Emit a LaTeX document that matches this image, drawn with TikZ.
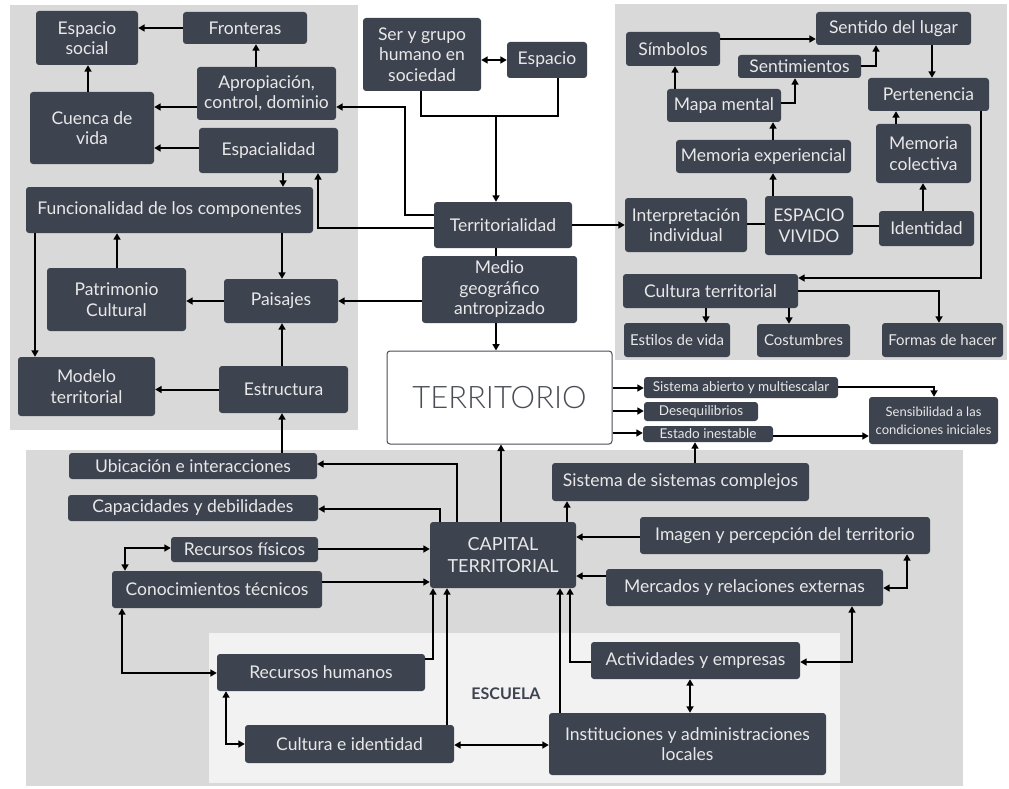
\documentclass[tikz,border=0pt]{standalone}
\usepackage{fontspec}
\setmainfont{Lato}
\newfontfamily\thinfont{Lato}[UprightFont=* Light]
\usetikzlibrary{arrows.meta}
\definecolor{boxfill}{HTML}{3E4350}
\definecolor{boxtext}{HTML}{E8E8E8}
\definecolor{panel}{HTML}{D9D9D9}
\definecolor{school}{HTML}{F2F2F2}
\definecolor{titlegray}{HTML}{4A4D55}

\tikzset{
  box/.style={draw=none, fill=boxfill, rounded corners=3pt, text=boxtext,
    align=center, inner sep=0pt, font=\fontsize{17.5}{20.5}\selectfont},
  smalltxt/.style={font=\fontsize{15}{17}\selectfont},
  tinytxt/.style={font=\fontsize{13.5}{15}\selectfont},
  microtxt/.style={font=\fontsize{13}{18}\selectfont},
  arr/.style={line width=2pt, -{Triangle[length=6.5pt,width=7pt]}},
  darr/.style={line width=2pt, {Triangle[length=6.5pt,width=7pt]}-{Triangle[length=6.5pt,width=7pt]}},
  ln/.style={line width=2pt},
}

% box from its corners: [options]{name}{x1}{y1}{x2}{y2}{text}, y measured downwards
\newcommand\bx[7][]{\node[box,minimum width={(#5)-(#3)},minimum height={(#6)-(#4)},#1]
  (#2) at ({((#3)+(#5))/2},{-((#4)+(#6))/2}) {#7};}

\begin{document}
\begin{tikzpicture}[x=1pt,y=1pt]
\useasboundingbox (0,0) rectangle (1009,-789);

% background panels
\fill[panel] (10,-5) rectangle (358,-430);
\fill[panel] (615,-4) rectangle (1007,-360);
\fill[panel] (26,-450) rectangle (963,-786);
\fill[school] (209,-633) rectangle (840,-783);

% territorialidad block (left)
\bx{esoc}{36}{11}{138}{65}{Espacio\\social}
\bx{fron}{183}{12}{307}{44}{Fronteras}
\bx{apro}{197}{67}{336}{120}{Apropiación,\\control, dominio}
\bx{cuen}{30}{92}{154}{164}{Cuenca de\\vida}
\bx{espa}{199}{128}{338}{173}{Espacialidad}
\bx{func}{26}{187}{313}{233}{Funcionalidad de los componentes}
\bx{patr}{47}{268}{186}{331}{Patrimonio\\Cultural}
\bx{pais}{224}{279}{338}{323}{Paisajes}
\bx{mode}{18}{357}{155}{416}{Modelo\\territorial}
\bx{estr}{219}{366}{348}{413}{Estructura}

% centre column
\bx{ser}{363}{18}{481}{91}{Ser y grupo\\humano en\\sociedad}
\bx{espc}{507}{42}{587}{78}{Espacio}
\bx{terr}{434}{202}{572}{248}{Territorialidad}
\bx{medio}{422}{256}{577}{323}{Medio\\geográfico\\antropizado}
\bx[fill=white,draw=titlegray,line width=1pt,text=titlegray,
    font=\thinfont\fontsize{31}{31}\selectfont]{territorio}{387}{351}{612}{444}{TERRITORIO}

% espacio vivido block (right)
\bx{simb}{626}{32}{720}{66}{Símbolos}
\bx{sent}{816}{12}{971}{45}{Sentido del lugar}
\bx{senti}{738}{55}{861}{78}{Sentimientos}
\bx{mapa}{667}{89}{781}{122}{Mapa mental}
\bx{memx}{676}{140}{851}{173}{Memoria experiencial}
\bx{pert}{868}{78}{989}{111}{Pertenencia}
\bx{memc}{876}{124}{971}{183}{Memoria\\colectiva}
\bx{interp}{625}{198}{747}{252}{Interpretación\\individual}
\bx{vivo}{765}{196}{853}{255}{ESPACIO\\VIVIDO}
\bx{iden}{879}{211}{974}{246}{Identidad}
\bx{cult}{623}{274}{798}{308}{Cultura territorial}
\bx[smalltxt]{esti}{624}{323}{730}{357}{Estilos de vida}
\bx[smalltxt]{cost}{757}{324}{850}{357}{Costumbres}
\bx[smalltxt]{form}{882}{323}{1003}{357}{Formas de hacer}

% system properties
\bx[tinytxt]{sis}{644}{377}{838}{398}{Sistema abierto y multiescalar}
\bx[tinytxt]{deseq}{644}{402}{758}{421}{Desequilibrios}
\bx[tinytxt]{estado}{643}{426}{773}{442}{Estado inestable}
\bx[microtxt]{sens}{869}{397}{998}{444}{Sensibilidad a las\\condiciones iniciales}

% capital territorial block (bottom)
\bx{ubic}{69}{453}{317}{479}{Ubicación e interacciones}
\bx{capa}{68}{495}{318}{521}{Capacidades y debilidades}
\bx{rfis}{171}{537}{318}{562}{Recursos físicos}
\bx{cono}{112}{571}{322}{608}{Conocimientos técnicos}
\bx[font=\fontsize{18}{22}\selectfont]{cap}{430}{522}{576}{588}{CAPITAL\\TERRITORIAL}
\bx{ssc}{552}{463}{809}{501}{Sistema de sistemas complejos}
\bx{imag}{640}{517}{930}{554}{Imagen y percepción del territorio}
\bx{merc}{606}{569}{883}{606}{Mercados y relaciones externas}
\bx{rhum}{217}{654}{425}{691}{Recursos humanos}
\bx{cide}{245}{725}{454}{763}{Cultura e identidad}
\bx{acti}{591}{642}{800}{679}{Actividades y empresas}
\bx{inst}{549}{713}{826}{775}{Instituciones y administraciones\\locales}
\node[text=boxfill,font=\bfseries\fontsize{16}{16}\selectfont] (escuela) at (506,-694) {ESCUELA};

% connectors: left block
\draw[arr] (fron.west) -- (fron.west -| esoc.east);
\draw[arr] (apro.north -| 256,0) -- (fron.south -| 256,0);
\draw[arr] (cuen.north -| 88,0) -- (esoc.south -| 88,0);
\draw[arr] (apro.west |- 0,-107) -- (cuen.east |- 0,-107);
\draw[arr] (espa.west |- 0,-148) -- (cuen.east |- 0,-148);
\draw[arr] (espa.south -| 283,0) -- (func.north -| 283,0);
\draw[arr] (func.south -| 35,0) -- (mode.north -| 35,0);
\draw[arr] (patr.north -| 117,0) -- (func.south -| 117,0);
\draw[arr] (func.south -| 282,0) -- (pais.north -| 282,0);
\draw[arr] (pais.west) -- (pais.west -| patr.east);
\draw[arr] (estr.north -| 282,0) -- (pais.south -| 282,0);
\draw[arr] (estr.west) -- (estr.west -| mode.east);
\draw[arr] (ubic.north -| 282,0) -- (estr.south -| 282,0);
\draw[arr] (terr.west |- 0,-215) -| (405,-107) -- (apro.east |- 0,-107);
\draw[arr] (terr.west |- 0,-228) -| (espa.south -| 318,0);
\draw[arr] (medio.west |- 0,-301) -- (pais.east |- 0,-301);

% connectors: centre column
\coordinate (join) at (496,-116);
\draw[darr] (ser.east |- 0,-60) -- (espc.west |- 0,-60);
\draw[ln] (ser.south -| 421,0) |- (join) -| (espc.south -| 558,0);
\draw[arr] (join) -- (terr.north -| join);
\draw[ln] (terr.south -| join) -- (medio.north -| join);
\draw[arr] (medio.south -| join) -- (territorio.north -| join);
\draw[arr] (terr.east) -- (terr.east -| interp.west);

% connectors: right block
\draw[arr] (simb.east |- 0,-39) -- (sent.west |- 0,-39);
\draw[arr] (mapa.north -| 675,0) -- (simb.south -| 675,0);
\draw[arr] (senti.east |- 0,-66) -| (sent.south -| 876,0);
\draw[arr] (mapa.east |- 0,-103) -| (senti.south -| 795,0);
\draw[arr] (memx.north -| 773,0) -- (mapa.south -| 773,0);
\draw[arr] (vivo.north -| 773,0) -- (memx.south -| 773,0);
\draw[arr] (sent.south -| 932,0) -- (pert.north -| 932,0);
\draw[arr] (memc.north -| 896,0) -- (pert.south -| 896,0);
\draw[arr] (iden.north -| 923,0) -- (memc.south -| 923,0);
\draw[ln] (interp.east |- 0,-224) -- (vivo.west |- 0,-224);
\draw[ln] (vivo.east |- 0,-226) -- (iden.west |- 0,-226);
\draw[arr] (pert.south -| 981,0) |- (cult.east |- 0,-278);
\draw[arr] (cult.south -| 706,0) -- (esti.north -| 706,0);
\draw[arr] (cult.south -| 789,0) -- (cost.north -| 789,0);
\draw[arr] (cult.east |- 0,-291) -| (form.north -| 939,0);

% connectors: territorio
\draw[arr] (territorio.east |- 0,-388) -- (sis.west |- 0,-388);
\draw[arr] (territorio.east |- 0,-411) -- (deseq.west |- 0,-411);
\draw[arr] (territorio.east |- 0,-433) -- (estado.west |- 0,-433);
\draw[arr] (sis.east |- 0,-387) -| (sens.north -| 934,0);
\draw[arr] (estado.east |- 0,-436) -- (sens.west |- 0,-436);
\draw[arr] (ssc.north -| 695,0) -- (estado.south -| 695,0);
\draw[arr] (cap.north -| 501,0) -- (territorio.south -| 501,0);

% connectors: capital territorial
\draw[arr] (cap.north -| 457,0) |- (ubic.east |- 0,-464);
\draw[arr] (cap.north -| 440,0) |- (capa.east |- 0,-509);
\draw[arr] (rfis.east |- 0,-549) -- (cap.west |- 0,-549);
\draw[arr] (cono.east |- 0,-582) -- (cap.west |- 0,-582);
\draw[darr] (rfis.west |- 0,-548) -| (cono.north -| 125,0);
\draw[darr] (cono.south -| 122,0) |- (rhum.west |- 0,-673);
\draw[arr] (rhum.east |- 0,-659) -| (cap.south -| 433,0);
\draw[arr] (cide.north -| 447,0) -- (cap.south -| 447,0);
\draw[darr] (rhum.south -| 226,0) |- (cide.west |- 0,-744);
\draw[darr] (cide.east |- 0,-745) -- (inst.west |- 0,-745);
\draw[arr] (inst.north -| 560,0) -- (cap.south -| 560,0);
\draw[arr] (acti.west |- 0,-662) -| (cap.south -| 570,0);
\draw[arr] (imag.west |- 0,-537) -- (cap.east |- 0,-537);
\draw[arr] (merc.west |- 0,-576) -- (cap.east |- 0,-576);
\draw[arr] (cap.north -| 567,0) -- (ssc.south -| 567,0);
\draw[darr] (merc.east |- 0,-588) -| (imag.south -| 907,0);
\draw[darr] (merc.south -| 852,0) |- (acti.east |- 0,-662);
\draw[darr] (acti.south -| 690,0) -- (inst.north -| 690,0);
\end{tikzpicture}
\end{document}
